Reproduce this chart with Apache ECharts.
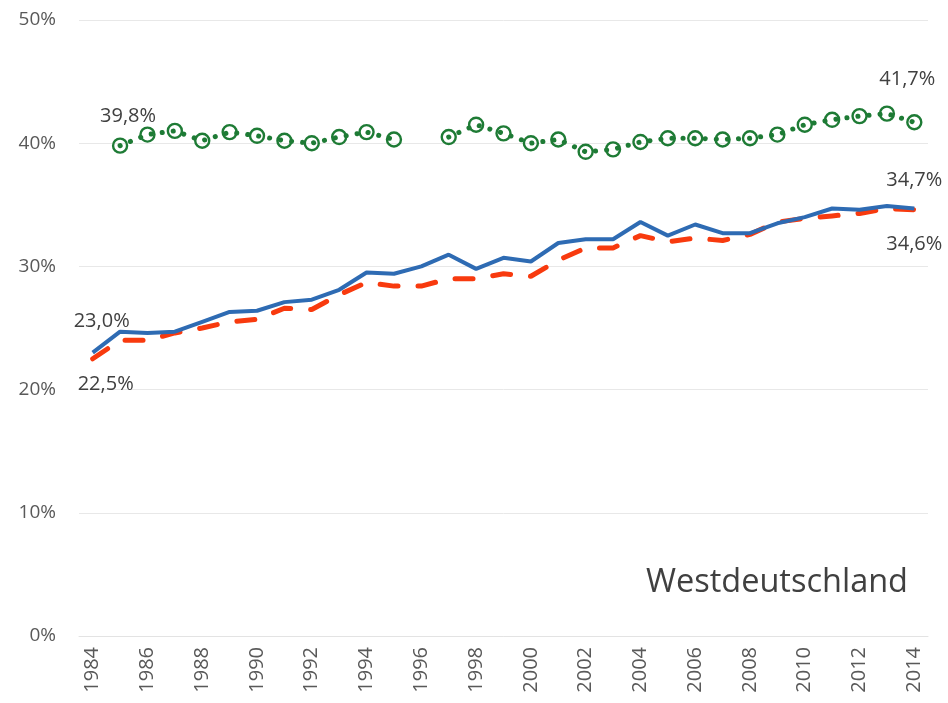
<!DOCTYPE html>
<html><head><meta charset="utf-8">
<script src="https://cdn.jsdelivr.net/npm/echarts@6/dist/echarts.min.js"></script>
<style>html,body{margin:0;padding:0;background:#fff}#c{width:948px;height:703px}</style>
</head><body><div id="c"></div>
<script>
const years = ['1984','1985','1986','1987','1988','1989','1990','1991','1992','1993','1994','1995','1996','1997','1998','1999','2000','2001','2002','2003','2004','2005','2006','2007','2008','2009','2010','2011','2012','2013','2014'];
const blueValues = [23.0,24.7,24.6,24.7,25.5,26.3,26.4,27.1,27.3,28.1,29.5,29.4,30.0,30.95,29.8,30.7,30.4,31.9,32.2,32.2,33.6,32.5,33.4,32.7,32.7,33.5,34.0,34.7,34.6,34.9,34.7];
const redValues = [22.5,24.0,24.0,24.6,25.0,25.5,25.7,26.6,26.5,27.7,28.7,28.4,28.4,29.0,29.0,29.4,29.2,30.5,31.5,31.5,32.5,32.0,32.3,32.1,32.6,33.6,33.9,34.1,34.3,34.7,34.6];
const greenValues = [null,39.8,40.7,41.0,40.2,40.9,40.6,40.2,40.0,40.5,40.9,40.3,null,40.5,41.5,40.8,40.0,40.3,39.3,39.5,40.1,40.4,40.4,40.3,40.4,40.7,41.5,41.9,42.2,42.4,41.7];
const yTicks = [0,10,20,30,40,50];
const panelTitle = 'Westdeutschland';

const FONT = '"Open Sans", "Noto Sans", sans-serif';
const fmt = v => v.toFixed(1).replace('.', ',') + '%';
function withLabels(arr, labels) {
  return arr.map((v, i) => {
    if (labels[i]) return { value: v, label: Object.assign({ show: true, formatter: fmt(v), color: '#404040', fontSize: 20, fontFamily: FONT }, labels[i]) };
    return v;
  });
}
const last = years.length - 1;
const blueData = withLabels(blueValues, { 0: { position: 'top', offset: [9, -16] }, [last]: { position: 'top', offset: [0, -13] } });
const redData = withLabels(redValues, { 0: { position: 'bottom', offset: [13, 10] }, [last]: { position: 'bottom', offset: [0, 20] } });
const greenData = withLabels(greenValues, { 1: { position: 'top', offset: [8, -6] }, [last]: { position: 'top', offset: [-7, -20] } });

const chart = echarts.init(document.getElementById('c'), null, { renderer: 'canvas' });
chart.setOption({
  animation: false,
  backgroundColor: '#fff',
  grid: { left: 79, right: 20, top: 20, bottom: 67, containLabel: false },
  xAxis: {
    type: 'category', data: years, boundaryGap: true,
    axisLine: { show: true, lineStyle: { color: '#e3e3e3', width: 1 } },
    axisTick: { show: false },
    axisLabel: { interval: 1, rotate: 90, fontSize: 20, color: '#595959', fontFamily: FONT, margin: 11 }
  },
  yAxis: {
    type: 'value', min: 0, max: 50, interval: 10,
    axisLine: { show: false }, axisTick: { show: false },
    splitLine: { lineStyle: { color: '#e8e8e8', width: 1 } },
    axisLabel: { formatter: v => v + '%', fontSize: 19, color: '#595959', fontFamily: FONT, margin: 23 }
  },
  series: [
    {
      type: 'line', data: greenData, connectNulls: false,
      symbol: 'circle', symbolSize: 14, showAllSymbol: true,
      itemStyle: { color: 'rgba(255,255,255,0)', borderColor: '#1E7B35', borderWidth: 2.4 },
      lineStyle: { color: '#1E7B35', width: 5, type: [0.1, 11], cap: 'round' },
      z: 3
    },
    {
      type: 'line', data: redData, symbol: 'circle', symbolSize: 0, showAllSymbol: true,
      itemStyle: { color: '#F83A0E' },
      lineStyle: { color: '#F83A0E', width: 5, type: [18, 20], cap: 'round' },
      z: 2
    },
    {
      type: 'line', data: blueData, symbol: 'circle', symbolSize: 0, showAllSymbol: true,
      itemStyle: { color: '#2E6BB3' },
      lineStyle: { color: '#2E6BB3', width: 4 },
      z: 4
    }
  ],
  graphic: [{
    type: 'text', right: 40, top: 566,
    style: { text: panelTitle, fontSize: 32.5, fill: '#404040', fontFamily: FONT }
  }]
});
</script></body></html>
